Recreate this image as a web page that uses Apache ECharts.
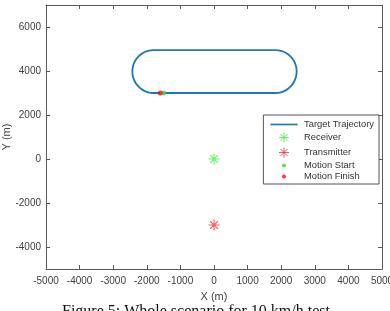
<!DOCTYPE html>
<html><head><meta charset="utf-8">
<script src="https://cdn.jsdelivr.net/npm/echarts@6/dist/echarts.min.js"></script>
<style>html,body{margin:0;padding:0;background:#fff}#c{width:390px;height:311px}</style>
</head><body><div id="c"></div>
<script>
// Data (metres)
const trajectoryX = [-1500, 1830, 1993, 2145, 2275, 2376, 2439, 2460, 2439, 2376, 2275, 2145, 1993, 1830,
  -1800, -1963, -2115, -2245, -2346, -2409, -2430, -2409, -2346, -2245, -2115, -1963, -1800, -1600];
const trajectoryY = [3000, 3000, 3033, 3131, 3286, 3488, 3723, 3975, 4227, 4463, 4664, 4819, 4917, 4950,
  4950, 4917, 4819, 4664, 4463, 4227, 3975, 3723, 3488, 3286, 3131, 3033, 3000, 3000];
const receiver = [0, 0];
const transmitter = [0, -3000];
const motionStart = [-1500, 3000];
const motionFinish = [-1600, 3000];
const xTicks = [-5000, -4000, -3000, -2000, -1000, 0, 1000, 2000, 3000, 4000, 5000];
const yTicks = [-4000, -2000, 0, 2000, 4000, 6000];
const seriesNames = ['Target Trajectory', 'Receiver', 'Transmitter', 'Motion Start', 'Motion Finish'];

const trajectory = trajectoryX.map((x, i) => [x, trajectoryY[i]]);
const star = 'path://M0,-10L0,10M-10,0L10,0M-7.07,-7.07L7.07,7.07M-7.07,7.07L7.07,-7.07';
const starIcon = 'path://M0,-6L0,6M-6,0L6,0M-4.24,-4.24L4.24,4.24M-4.24,4.24L4.24,-4.24';
const dotIcon = 'path://M-6,-6L-6,-6M6,6L6,6M0,-2.5A2.5,2.5,0,1,1,0,2.5A2.5,2.5,0,1,1,0,-2.5Z';
const lineIcon = 'path://M0,-5.5L0,-5.5M30,5.5L30,5.5M0,-0.9L30,-0.9L30,0.9L0,0.9Z';
const axisCol = '#5a5a5a';
const font = 'Liberation Sans, Arial, sans-serif';
const plain = v => String(v);
const green = '#44ee44', red = '#ee3333';

const chart = echarts.init(document.getElementById('c'), null, {renderer: 'canvas'});
const axisCommon = {
  axisLine: {show: true, onZero: false, lineStyle: {color: axisCol, width: 1}},
  splitLine: {show: false},
  axisLabel: {color: '#404040', fontSize: 10, fontFamily: font, formatter: plain},
  nameTextStyle: {color: '#404040', fontSize: 11, fontFamily: font},
  nameMoveOverlap: false
};
chart.setOption({
  animation: false,
  grid: {left: 46, right: 8, top: 5, bottom: 42, containLabel: false, outerBoundsMode: 'none'},
  xAxis: [
    Object.assign({}, axisCommon, {type: 'value', min: -5000, max: 5000, interval: 1000,
      name: 'X (m)', nameLocation: 'middle', nameGap: 22,
      axisTick: {show: true, inside: true, length: 4, lineStyle: {color: axisCol}},
      axisLabel: Object.assign({}, axisCommon.axisLabel, {margin: 7, customValues: xTicks})}),
    {type: 'value', min: -5000, max: 5000, interval: 1000, position: 'top',
      axisLine: {show: true, onZero: false, lineStyle: {color: axisCol}},
      axisTick: {show: true, inside: true, length: 4, lineStyle: {color: axisCol}},
      axisLabel: {show: false}, splitLine: {show: false}}
  ],
  yAxis: [
    Object.assign({}, axisCommon, {type: 'value', min: -5000, max: 7000, interval: 1000,
      name: 'Y (m)', nameLocation: 'middle', nameGap: 34,
      axisTick: {show: true, inside: true, length: 4, customValues: yTicks, lineStyle: {color: axisCol}},
      axisLabel: Object.assign({}, axisCommon.axisLabel, {margin: 5, customValues: yTicks})}),
    {type: 'value', min: -5000, max: 7000, interval: 1000, position: 'right',
      axisLine: {show: true, onZero: false, lineStyle: {color: axisCol}},
      axisTick: {show: true, inside: true, length: 4, customValues: yTicks, lineStyle: {color: axisCol}},
      axisLabel: {show: false}, splitLine: {show: false}}
  ],
  legend: {
    orient: 'vertical', right: 11, top: 115, itemWidth: 30, itemHeight: 10, itemGap: 0,
    padding: [4, 5, 2, 7], backgroundColor: '#fff', borderColor: '#555', borderWidth: 1, borderRadius: 0,
    textStyle: {color: '#333', fontSize: 9.4, lineHeight: 11, fontFamily: font, padding: [0, 0, 0, 0]},
    data: [
      {name: seriesNames[0], icon: lineIcon},
      {name: seriesNames[1], icon: starIcon, itemStyle: {color: 'none', borderColor: green, borderWidth: 1}},
      {name: seriesNames[2], icon: starIcon, itemStyle: {color: 'none', borderColor: red, borderWidth: 1}},
      {name: seriesNames[3], icon: dotIcon},
      {name: seriesNames[4], icon: dotIcon}
    ]
  },
  series: [
    {name: seriesNames[0], type: 'line', data: trajectory, smooth: 0.4, symbol: 'none', showSymbol: false,
      lineStyle: {color: '#1f77b4', width: 1.8}, itemStyle: {color: '#1f77b4'}, z: 2},
    {name: seriesNames[1], type: 'scatter', data: [receiver], symbol: star, symbolSize: 11,
      itemStyle: {color: 'none', borderColor: green, borderWidth: 1.1}, z: 3},
    {name: seriesNames[2], type: 'scatter', data: [transmitter], symbol: star, symbolSize: 11,
      itemStyle: {color: 'none', borderColor: red, borderWidth: 1.1}, z: 3},
    {name: seriesNames[3], type: 'scatter', data: [motionStart], symbol: 'circle', symbolSize: 5,
      itemStyle: {color: '#33dd33'}, z: 4},
    {name: seriesNames[4], type: 'scatter', data: [motionFinish], symbol: 'circle', symbolSize: 5,
      itemStyle: {color: '#ee1111'}, z: 5}
  ],
  graphic: [{type: 'text', left: 62, top: 304,
    style: {text: 'Figure 5: Whole scenario for 10 km/h test', fill: '#111', font: '16px "Liberation Serif", "Times New Roman", serif'}}]
});
</script></body></html>
